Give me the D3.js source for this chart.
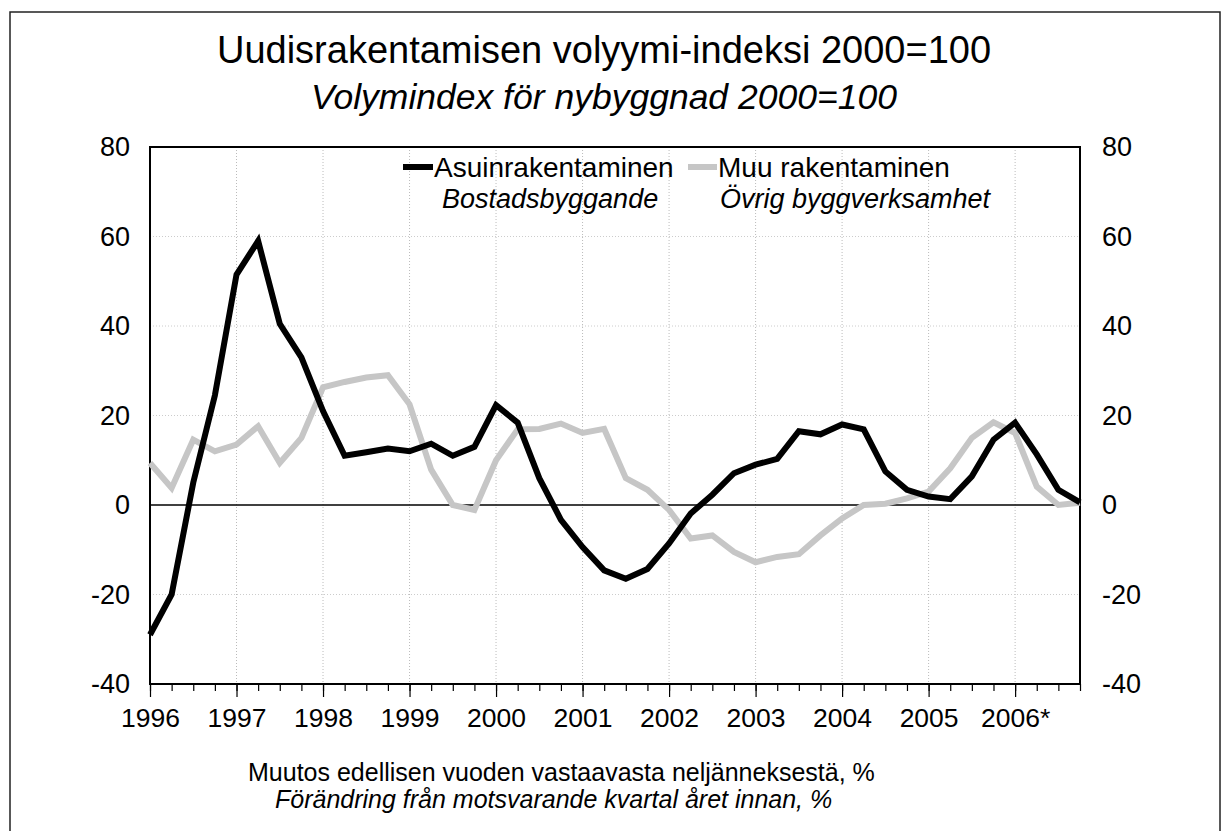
<!DOCTYPE html>
<html>
<head>
<meta charset="utf-8">
<script src="https://cdn.jsdelivr.net/npm/d3@7"></script>
<style>
body { margin: 0; background: #ffffff; }
text { font-family: "Liberation Sans", Arial, sans-serif; fill: #000; }
</style>
</head>
<body>
<div id="chart"></div>
<script>
//
// Data: quarterly change from same quarter of previous year, %
// 1996Q1 ... 2006Q4
//
var yearLabels = ["1996","1997","1998","1999","2000","2001","2002","2003","2004","2005","2006*"];

var asuin = [-29, -20, 5, 24.5, 51.5, 59, 40.5, 33, 21, 11, 11.8, 12.6,
             12, 13.7, 11, 13, 22.3, 18.4, 6, -3.3, -9.4, -14.6, -16.5, -14.3,
             -8.6, -1.9, 2.3, 7.1, 9, 10.3, 16.5, 15.8, 18, 16.9, 7.5, 3.4,
             1.9, 1.3, 6.4, 14.6, 18.4, 11.3, 3.4, 0.6];

var muu = [9.4, 3.8, 14.6, 12, 13.5, 17.6, 9.4, 15, 26.3, 27.5, 28.5, 29,
           22.5, 7.9, 0, -1.1, 10, 16.9, 17, 18.2, 16.1, 17, 6, 3.4,
           -1.1, -7.5, -6.8, -10.5, -12.8, -11.6, -11, -6.8, -3, 0, 0.3, 1.5,
           3, 8.2, 15, 18.5, 16.1, 4.1, 0, 0.5];

var yTicks = [-40, -20, 0, 20, 40, 60, 80];

//
// Sizes
//
var W = 1223, H = 831;
var plot = {left: 150, right: 1080, top: 147, bottom: 684};

var svg = d3.select("#chart").append("svg")
	.attr("width", W)
	.attr("height", H);

// outer frame
svg.append("rect")
	.attr("x", 10).attr("y", 12)
	.attr("width", 1210).attr("height", 840)
	.style("fill", "none")
	.style("stroke", "#222")
	.style("stroke-width", 1.5);

//
// Scales
//
var x = d3.scaleLinear()
	.domain([0, asuin.length - 1])
	.range([plot.left, plot.right]);

var y = d3.scaleLinear()
	.domain([-40, 80])
	.range([plot.bottom, plot.top]);

//
// Grid lines (dotted, light)
//
var g = svg.append("g");

g.selectAll(".vgrid")
	.data(d3.range(1, yearLabels.length))
	.enter().append("line")
	.attr("x1", function(d) { return x(d * 4); })
	.attr("x2", function(d) { return x(d * 4); })
	.attr("y1", plot.top)
	.attr("y2", plot.bottom)
	.style("stroke", "#bbb")
	.style("stroke-width", 1)
	.style("stroke-dasharray", "1,2");

g.selectAll(".hgrid")
	.data(yTicks.filter(function(d) { return d != 0 && d != 80 && d != -40; }))
	.enter().append("line")
	.attr("x1", plot.left)
	.attr("x2", plot.right)
	.attr("y1", function(d) { return y(d); })
	.attr("y2", function(d) { return y(d); })
	.style("stroke", "#ccc")
	.style("stroke-width", 1)
	.style("stroke-dasharray", "1,2");

// zero line
g.append("line")
	.attr("x1", plot.left).attr("x2", plot.right)
	.attr("y1", y(0)).attr("y2", y(0))
	.style("stroke", "#000")
	.style("stroke-width", 1.5);

//
// Plot box
//
svg.append("rect")
	.attr("x", plot.left).attr("y", plot.top)
	.attr("width", plot.right - plot.left)
	.attr("height", plot.bottom - plot.top)
	.style("fill", "none")
	.style("stroke", "#000")
	.style("stroke-width", 2);

//
// X axis: major ticks on years, minor on quarters
//
var xAxis = d3.axisBottom(x)
	.tickValues(d3.range(0, asuin.length))
	.tickSize(7)
	.tickFormat("");

var axisX = svg.append("g")
	.attr("transform", "translate(0," + plot.bottom + ")")
	.call(xAxis);
axisX.select(".domain").remove();
axisX.selectAll("line").style("stroke", "#000").style("stroke-width", 1.2);

var axisXMajor = svg.append("g")
	.attr("transform", "translate(0," + plot.bottom + ")")
	.call(d3.axisBottom(x)
		.tickValues(d3.range(0, yearLabels.length).map(function(i) { return i * 4; }))
		.tickSize(13)
		.tickPadding(11)
		.tickFormat(function(d) { return yearLabels[d / 4]; }));
axisXMajor.select(".domain").remove();
axisXMajor.selectAll("line").style("stroke", "#000").style("stroke-width", 1.2);
axisXMajor.selectAll("text")
	.style("font-size", "26.5px")
	.style("font-family", "Liberation Sans, Arial, sans-serif");

//
// Y axes left and right (labels only, hyphen minus like the original)
//
var yFmt = function(d) { return String(d); };

var axisYL = svg.append("g")
	.attr("transform", "translate(" + plot.left + ",0)")
	.call(d3.axisLeft(y).tickValues(yTicks).tickSize(0).tickPadding(20).tickFormat(yFmt));
axisYL.select(".domain").remove();
axisYL.selectAll("text")
	.style("font-size", "27px")
	.style("font-family", "Liberation Sans, Arial, sans-serif");

var axisYR = svg.append("g")
	.attr("transform", "translate(" + plot.right + ",0)")
	.call(d3.axisRight(y).tickValues(yTicks).tickSize(0).tickPadding(22).tickFormat(yFmt));
axisYR.select(".domain").remove();
axisYR.selectAll("text")
	.style("font-size", "27px")
	.style("font-family", "Liberation Sans, Arial, sans-serif");

//
// Lines
//
var line = d3.line()
	.x(function(d, i) { return x(i); })
	.y(function(d) { return y(d); });

svg.append("path")
	.datum(muu)
	.attr("d", line)
	.style("fill", "none")
	.style("stroke", "#c6c6c6")
	.style("stroke-width", 6)
	.style("stroke-linejoin", "miter");

svg.append("path")
	.datum(asuin)
	.attr("d", line)
	.style("fill", "none")
	.style("stroke", "#000")
	.style("stroke-width", 6)
	.style("stroke-linejoin", "miter");

//
// Titles
//
svg.append("text")
	.attr("x", 604).attr("y", 63)
	.attr("text-anchor", "middle")
	.style("font-size", "38px")
	.text("Uudisrakentamisen volyymi-indeksi 2000=100");

svg.append("text")
	.attr("x", 604).attr("y", 109)
	.attr("text-anchor", "middle")
	.style("font-size", "35.5px")
	.style("font-style", "italic")
	.text("Volymindex för nybyggnad 2000=100");

//
// Legend
//
svg.append("line")
	.attr("x1", 403).attr("x2", 433)
	.attr("y1", 167).attr("y2", 167)
	.style("stroke", "#000").style("stroke-width", 6);
svg.append("text")
	.attr("x", 434).attr("y", 177)
	.style("font-size", "28px")
	.text("Asuinrakentaminen");
svg.append("text")
	.attr("x", 442).attr("y", 208)
	.style("font-size", "27px")
	.style("font-style", "italic")
	.text("Bostadsbyggande");

svg.append("line")
	.attr("x1", 688).attr("x2", 717)
	.attr("y1", 167).attr("y2", 167)
	.style("stroke", "#c6c6c6").style("stroke-width", 6);
svg.append("text")
	.attr("x", 718).attr("y", 177)
	.style("font-size", "28px")
	.text("Muu rakentaminen");
svg.append("text")
	.attr("x", 720).attr("y", 208)
	.style("font-size", "27px")
	.style("font-style", "italic")
	.text("Övrig byggverksamhet");

//
// Footer
//
svg.append("text")
	.attr("x", 248).attr("y", 781)
	.style("font-size", "25px")
	.text("Muutos edellisen vuoden vastaavasta neljänneksestä, %");

svg.append("text")
	.attr("x", 275).attr("y", 808)
	.style("font-size", "25px")
	.style("font-style", "italic")
	.text("Förändring från motsvarande kvartal året innan, %");
</script>
</body>
</html>
